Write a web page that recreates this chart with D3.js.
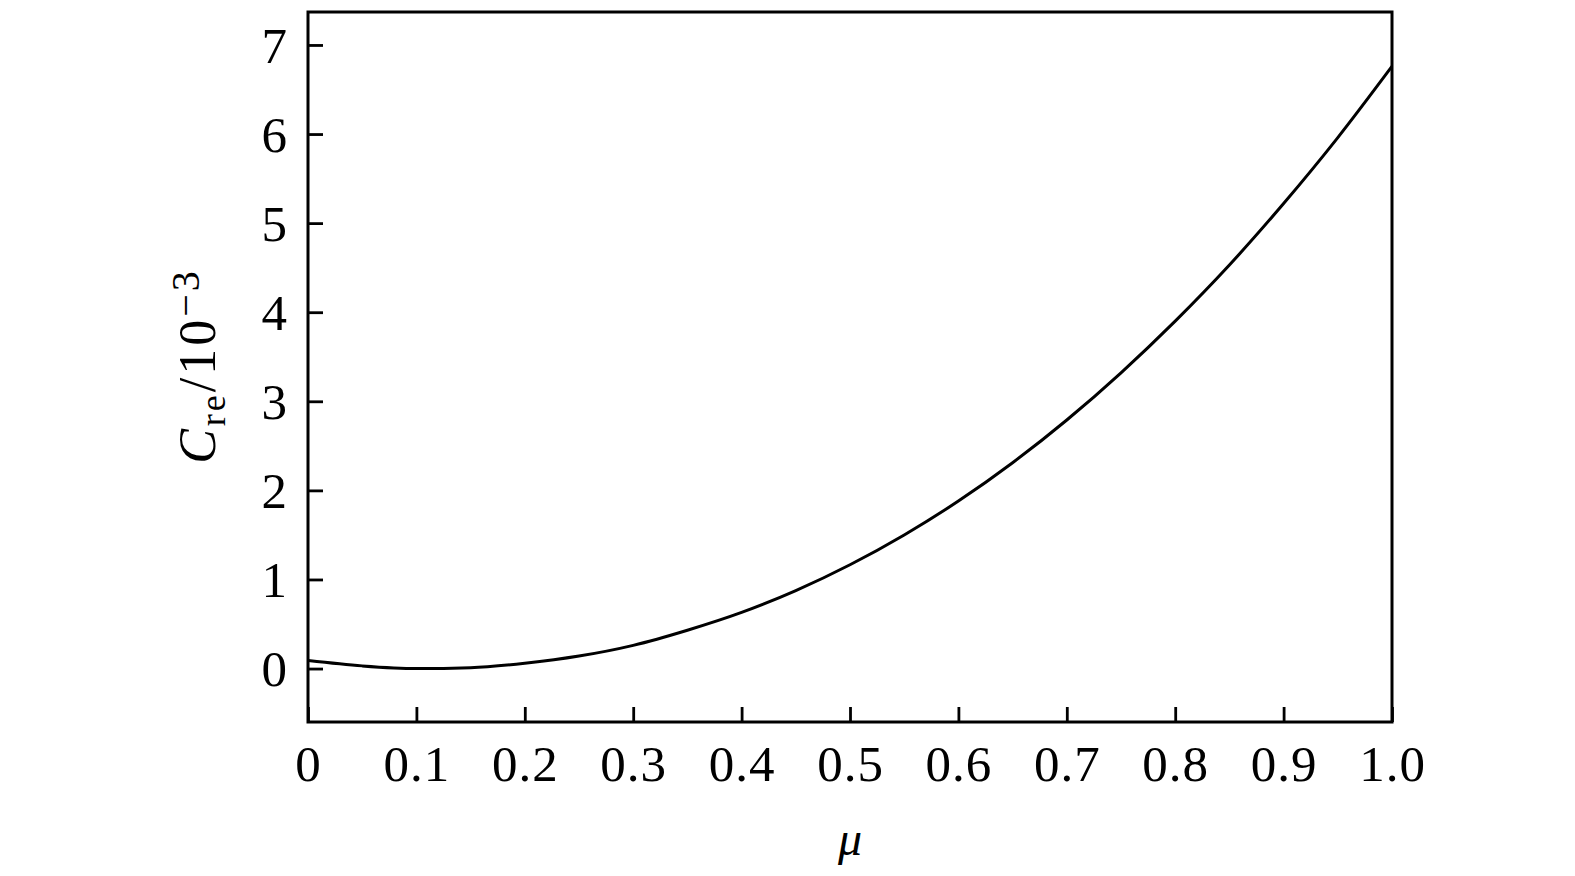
<!DOCTYPE html>
<html>
<head>
<meta charset="utf-8">
<script src="https://cdn.jsdelivr.net/npm/d3@7"></script>
<style>
  html, body { margin: 0; padding: 0; background: #fff; }
  svg { display: block; }
  text { font-family: "Liberation Serif", "DejaVu Serif", serif; fill: #000; }
</style>
</head>
<body>
<svg id="chart" width="1575" height="876"></svg>
<script>
// Data
const muValues = [0, 0.05, 0.10, 0.15, 0.20, 0.25, 0.30, 0.35, 0.40, 0.45, 0.50,
                  0.55, 0.60, 0.65, 0.70, 0.75, 0.80, 0.85, 0.90, 0.95, 1.00];
const creValues = [0.09, 0.03, 0.00, 0.01, 0.06, 0.14, 0.26, 0.43, 0.63, 0.875, 1.165,
                   1.50, 1.88, 2.31, 2.79, 3.32, 3.90, 4.53, 5.22, 5.96, 6.76];
const xTicks = [0, 0.1, 0.2, 0.3, 0.4, 0.5, 0.6, 0.7, 0.8, 0.9, 1.0];
const xTickLabels = ["0", "0.1", "0.2", "0.3", "0.4", "0.5", "0.6", "0.7", "0.8", "0.9", "1.0"];
const yTicks = [0, 1, 2, 3, 4, 5, 6, 7];
const yTickLabels = ["0", "1", "2", "3", "4", "5", "6", "7"];

(function () {
const svg = d3.select("#chart");
const mLeft = 308, mRight = 1392, mTop = 12, mBottom = 722;

const x = d3.scaleLinear().domain([0, 1]).range([mLeft, mRight]);
const y = d3.scaleLinear().domain([-0.6, 7.37]).range([mBottom, mTop]);

const data = muValues.map((m, i) => ({ mu: m, c: creValues[i] }));

// Curve
svg.append("path")
  .datum(data)
  .attr("fill", "none")
  .attr("stroke", "#000")
  .attr("stroke-width", 3)
  .attr("d", d3.line().x(d => x(d.mu)).y(d => y(d.c)).curve(d3.curveMonotoneX));

// Axes (ticks inward)
const xAxis = d3.axisBottom(x).tickValues(xTicks)
  .tickFormat((d, i) => xTickLabels[i]).tickSizeInner(-15).tickSizeOuter(0).tickPadding(23);
const yAxis = d3.axisLeft(y).tickValues(yTicks)
  .tickFormat((d, i) => yTickLabels[i]).tickSizeInner(-15).tickSizeOuter(0).tickPadding(36);

const gx = svg.append("g").attr("transform", `translate(0,${mBottom})`).call(xAxis);
const gy = svg.append("g").attr("transform", `translate(${mLeft},0)`).call(yAxis);
[gx, gy].forEach(g => {
  g.select(".domain").remove();
  g.selectAll(".tick line").attr("stroke", "#000").attr("stroke-width", 2.8);
  g.selectAll(".tick text").attr("font-size", 51).attr("font-family", "Liberation Serif, serif").attr("fill", "#000");
});
gx.selectAll(".tick text").attr("letter-spacing", 1);
gy.selectAll(".tick text").attr("dy", "0.34em").attr("x", -21).attr("text-anchor", "end");

// Frame
svg.append("rect")
  .attr("x", mLeft).attr("y", mTop)
  .attr("width", mRight - mLeft).attr("height", mBottom - mTop)
  .attr("fill", "none").attr("stroke", "#000").attr("stroke-width", 3);

// X axis label
svg.append("text")
  .attr("x", (mLeft + mRight) / 2).attr("y", 855)
  .attr("text-anchor", "middle")
  .attr("font-size", 48).attr("font-style", "italic")
  .text("μ");

// Y axis label
const yl = svg.append("text")
  .attr("transform", `translate(215,366) rotate(-90)`)
  .attr("text-anchor", "middle")
  .attr("letter-spacing", 3)
  .attr("font-size", 52);
yl.append("tspan").attr("font-style", "italic").text("C");
yl.append("tspan").attr("font-size", 36).attr("dy", 10).text("re");
yl.append("tspan").attr("dy", -10).text("/10");
yl.append("tspan").attr("font-size", 40).attr("dy", -16).text("−3");
})();
</script>
</body>
</html>
